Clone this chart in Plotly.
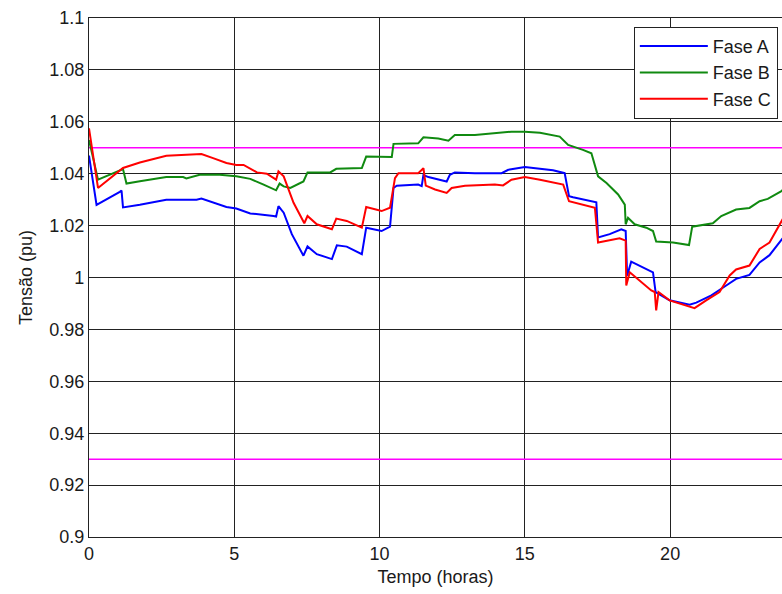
import plotly.graph_objects as go

# ---- data ----
hours_a = [0.00, 0.26, 1.06, 1.12, 1.17, 1.75, 2.66, 3.70, 3.87, 4.27, 4.73, 5.07, 5.55, 6.35, 6.44, 6.52,
           6.70, 6.98, 7.38, 7.52, 7.84, 8.36, 8.53, 8.87, 9.39, 9.54, 9.85, 10.07, 10.36, 10.48, 10.59,
           11.33, 11.45, 11.51, 11.68, 12.31, 12.42, 12.59, 13.28, 14.20, 14.43, 15.00, 15.29, 15.97,
           16.37, 16.52, 16.66, 17.46, 17.52, 17.92, 18.32, 18.47, 18.52, 18.66, 19.41, 19.50, 19.98,
           20.67, 20.90, 21.42, 21.93, 22.27, 22.73, 23.08, 23.42, 23.83, 24.00]
fase_a = [1.047, 1.028, 1.033, 1.0335, 1.027, 1.028, 1.030, 1.030, 1.0304, 1.0288, 1.0272, 1.0266, 1.0247,
          1.0237, 1.0235, 1.0275, 1.025, 1.0167, 1.0084, 1.012, 1.009, 1.0071, 1.0124, 1.0119, 1.009,
          1.0192, 1.0186, 1.0179, 1.0196, 1.0345, 1.0354, 1.0358, 1.0352, 1.0395, 1.0387, 1.037, 1.0396,
          1.0405, 1.0402, 1.0402, 1.0415, 1.0426, 1.0422, 1.0413, 1.0402, 1.0313, 1.0309, 1.029, 1.0154,
          1.0167, 1.0186, 1.0179, 1.0007, 1.0061, 1.002, 0.9944, 0.9912, 0.9895, 0.9903, 0.9931, 0.9969,
          0.9995, 1.001, 1.0058, 1.0086, 1.0147, 1.017]

hours_b = [0.00, 0.31, 1.17, 1.29, 1.75, 2.66, 3.24, 3.35, 3.81, 4.50, 5.07, 5.55, 6.01, 6.44, 6.56, 6.70,
           6.93, 7.38, 7.52, 8.30, 8.51, 9.39, 9.54, 10.42, 10.48, 11.33, 11.51, 12.02, 12.37, 12.59,
           13.28, 14.20, 14.54, 15.00, 15.52, 16.20, 16.49, 17.00, 17.29, 17.52, 17.81, 18.21, 18.44,
           18.47, 18.55, 18.78, 19.18, 19.41, 19.52, 20.10, 20.65, 20.76, 21.47, 21.76, 22.27, 22.73,
           23.08, 23.36, 23.83, 24.00]
fase_b = [1.053, 1.0377, 1.0418, 1.0362, 1.0371, 1.0387, 1.0387, 1.0382, 1.0396, 1.0396, 1.039, 1.038,
          1.0358, 1.0336, 1.0362, 1.0351, 1.0345, 1.037, 1.0405, 1.0405, 1.0419, 1.0422, 1.0466, 1.0464,
          1.0515, 1.0517, 1.054, 1.0536, 1.0527, 1.0549, 1.0549, 1.0558, 1.0562, 1.0562, 1.0558, 1.0543,
          1.0511, 1.0492, 1.0479, 1.039, 1.0364, 1.032, 1.0281, 1.0205, 1.023, 1.0205, 1.0192, 1.0179,
          1.0139, 1.0135, 1.0125, 1.0196, 1.0209, 1.0237, 1.0262, 1.0268, 1.0294, 1.0303, 1.0333, 1.035]

hours_c = [0.00, 0.31, 1.17, 1.75, 2.66, 3.58, 3.87, 4.27, 4.73, 5.07, 5.32, 5.78, 6.12, 6.44, 6.52, 6.70,
           7.04, 7.41, 7.52, 7.84, 8.36, 8.51, 8.87, 9.39, 9.54, 10.07, 10.36, 10.53, 10.65, 11.33, 11.51,
           11.59, 11.91, 12.31, 12.48, 12.94, 13.97, 14.25, 14.54, 15.00, 15.52, 16.32, 16.52, 17.41,
           17.52, 18.26, 18.47, 18.49, 18.61, 19.35, 19.47, 19.52, 19.60, 19.98, 20.84, 21.24, 21.70,
           22.05, 22.27, 22.73, 23.08, 23.42, 23.83, 24.00]
fase_c = [1.0575, 1.0345, 1.0422, 1.0443, 1.0469, 1.0473, 1.0476, 1.046, 1.0441, 1.0434, 1.0434, 1.0405,
          1.040, 1.0377, 1.0409, 1.039, 1.0288, 1.0209, 1.0237, 1.0205, 1.0186, 1.0227, 1.0218, 1.0192,
          1.0272, 1.0256, 1.0269, 1.0383, 1.0402, 1.0402, 1.0421, 1.0354, 1.0339, 1.0326, 1.0345, 1.0354,
          1.0358, 1.0355, 1.0377, 1.0387, 1.0377, 1.0358, 1.0294, 1.0269, 1.0135, 1.0151, 1.0142, 0.9969,
          1.002, 0.995, 0.9944, 0.9873, 0.9944, 0.9912, 0.9882, 0.9912, 0.9944, 1.0008, 1.0031, 1.0046,
          1.011, 1.0135, 1.0218, 1.025]

limits = [1.05, 0.93]
x_ticks = [0, 5, 10, 15, 20]
y_ticks = [0.9, 0.92, 0.94, 0.96, 0.98, 1.0, 1.02, 1.04, 1.06, 1.08, 1.1]
y_tick_text = ["0.9", "0.92", "0.94", "0.96", "0.98", "1", "1.02", "1.04", "1.06", "1.08", "1.1"]

FONT = "Liberation Sans, Arial, sans-serif"

fig = go.Figure()
for lim in limits:
    fig.add_trace(go.Scatter(x=[0, 24], y=[lim, lim], mode="lines",
                             line=dict(color="#ff00ff", width=1.5), showlegend=False, hoverinfo="skip"))
fig.add_trace(go.Scatter(x=hours_a, y=fase_a, mode="lines", name="Fase A",
                         line=dict(color="#0000ff", width=2)))
fig.add_trace(go.Scatter(x=hours_b, y=fase_b, mode="lines", name="Fase B",
                         line=dict(color="#108a10", width=2)))
fig.add_trace(go.Scatter(x=hours_c, y=fase_c, mode="lines", name="Fase C",
                         line=dict(color="#ff0000", width=2)))

fig.update_layout(
    width=782, height=594,
    margin=dict(l=89, r=0, t=18, b=57),
    paper_bgcolor="white", plot_bgcolor="white",
    font=dict(family=FONT, size=18, color="#1a1a1a"),
    showlegend=True,
    legend=dict(x=0.994, y=0.983, xanchor="right", yanchor="top",
                bgcolor="white", bordercolor="#222", borderwidth=1,
                font=dict(family=FONT, size=18, color="#1a1a1a"),
                itemwidth=68, tracegroupgap=0),
)
fig.update_xaxes(range=[0, 23.85], tickvals=x_ticks, ticktext=[str(t) for t in x_ticks],
                 showgrid=True, gridcolor="#222", gridwidth=1.3,
                 showline=True, linecolor="#222", linewidth=1.3, mirror=True,
                 ticks="inside", ticklen=3, tickcolor="#222", zeroline=False,
                 tickfont=dict(size=18),
                 title=dict(text="Tempo (horas)", standoff=7, font=dict(size=18)))
fig.update_yaxes(range=[0.9, 1.1], tickvals=y_ticks, ticktext=y_tick_text,
                 showgrid=True, gridcolor="#222", gridwidth=1.3,
                 showline=True, linecolor="#222", linewidth=1.3, mirror=True,
                 ticks="inside", ticklen=3, tickcolor="#222", zeroline=False,
                 tickfont=dict(size=18),
                 title=dict(text="Tensão (pu)", standoff=11, font=dict(size=18)))

fig.write_html("out.html")
